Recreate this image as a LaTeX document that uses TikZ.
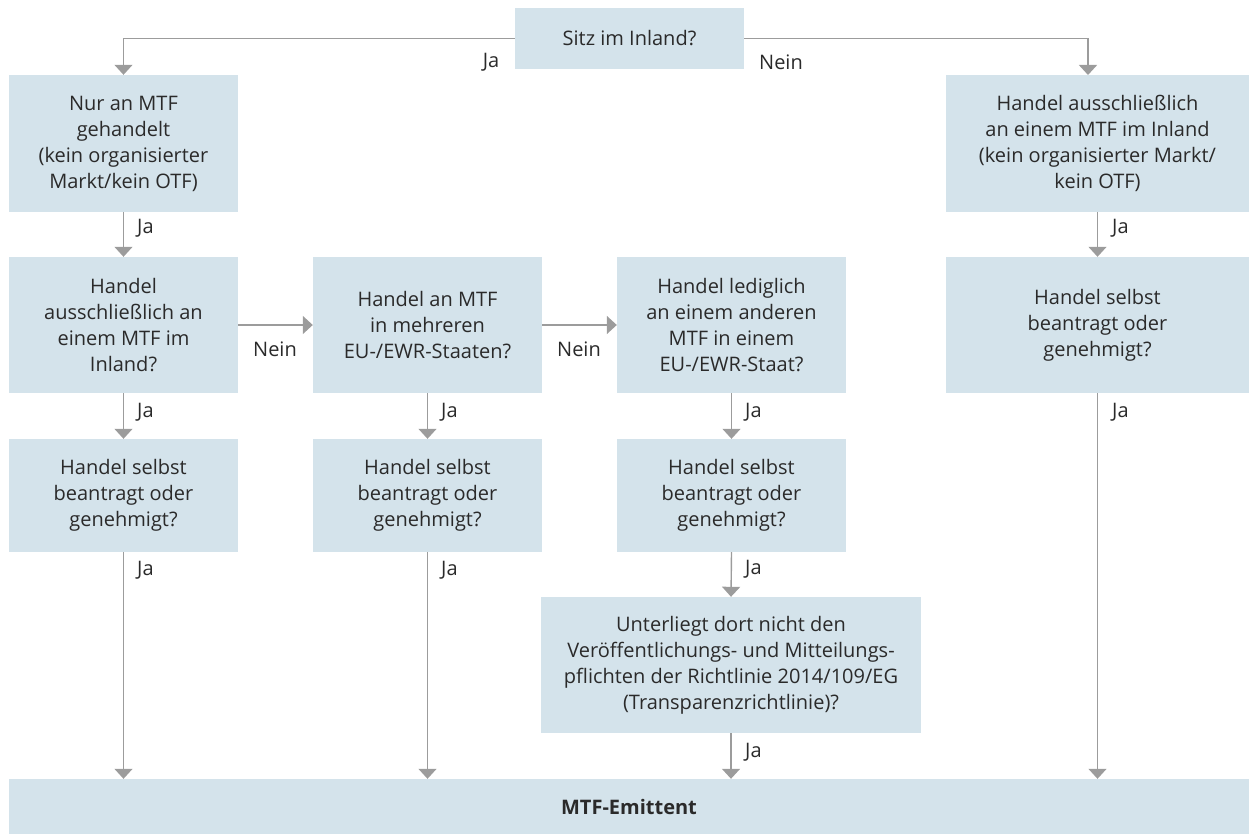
\documentclass[tikz,border=0pt]{standalone}
\usepackage{fontspec}
\setmainfont{Open Sans}
\usetikzlibrary{arrows.meta,calc}
\definecolor{boxfill}{HTML}{D4E3EB}
\definecolor{linegray}{HTML}{9C9C9C}
\definecolor{txt}{HTML}{2A2A2A}
\tikzset{
  qbox/.style={fill=boxfill, draw=none, inner sep=0pt, align=center,
    text=txt, font=\fontsize{20}{26}\selectfont},
  lab/.style={inner sep=0pt, text=txt, font=\fontsize{20}{26}\selectfont},
  flow/.style={draw=linegray, line width=1.4pt,
    -{Triangle[width=18pt,length=10pt,fill=linegray]}},
}
\begin{document}
\begin{tikzpicture}[x=1pt,y=-1pt]
\useasboundingbox (0,0) rectangle (1249,834);

% question boxes
\node[qbox, minimum width=229pt, minimum height=61pt] (top) at (629.5,38.5) {Sitz im Inland?};
\node[qbox, minimum width=229pt, minimum height=137pt] (A1) at (123.5,143.5)
  {Nur an MTF\\gehandelt\\(kein organisierter\\Markt/kein OTF)};
\node[qbox, minimum width=303pt, minimum height=137pt] (D1) at (1097.5,143.5)
  {Handel ausschließlich\\an einem MTF im Inland\\(kein organisierter Markt/\\kein OTF)};

\node[qbox, minimum width=229pt, minimum height=136pt] (A2) at (123.5,325)
  {Handel\\ausschließlich an\\einem MTF im\\Inland?};
\node[qbox, minimum width=229pt, minimum height=136pt] (B2) at (427.5,325)
  {Handel an MTF\\in mehreren\\EU-/EWR-Staaten?};
\node[qbox, minimum width=229pt, minimum height=136pt] (C2) at (731.5,325)
  {Handel lediglich\\an einem anderen\\MTF in einem\\EU-/EWR-Staat?};
\node[qbox, minimum width=303pt, minimum height=136pt] (D2) at (1097.5,325)
  {Handel selbst\\beantragt oder\\genehmigt?};

\node[qbox, minimum width=229pt, minimum height=113pt] (A3) at (123.5,495.5)
  {Handel selbst\\beantragt oder\\genehmigt?};
\node[qbox, minimum width=229pt, minimum height=113pt] (B3) at (427.5,495.5)
  {Handel selbst\\beantragt oder\\genehmigt?};
\node[qbox, minimum width=229pt, minimum height=113pt] (C3) at (731.5,495.5)
  {Handel selbst\\beantragt oder\\genehmigt?};

\node[qbox, minimum width=380pt, minimum height=136pt] (C4) at (731,665)
  {Unterliegt dort nicht den\\Veröffentlichungs- und Mitteilungs-\\pflichten der Richtlinie 2014/109/EG\\(Transparenzrichtlinie)?};

\node[qbox, minimum width=1240pt, minimum height=55pt] (end) at (629,806.5)
  {\bfseries MTF-Emittent};

% entry point of the right branch
\coordinate (D1in) at (1088,75);

% connectors
\draw[flow] (top.west) -| (A1.north);
\draw[flow] (top.east) -| (D1in);
\draw[flow] (A1.south) -- (A2.north);
\draw[flow] (D1.south) -- (D2.north);
\draw[flow] (A2.east) -- (B2.west);
\draw[flow] (B2.east) -- (C2.west);
\draw[flow] (A2.south) -- (A3.north);
\draw[flow] (B2.south) -- (B3.north);
\draw[flow] (C2.south) -- (C3.north);
\draw[flow] (C3.south) -- (C4.north);
\draw[flow] (A3.south) -- (A3.south |- end.north);
\draw[flow] (B3.south) -- (B3.south |- end.north);
\draw[flow] (C4.south) -- (C4.south |- end.north);
\draw[flow] (D2.south) -- (D2.south |- end.north);

% branch labels
\node[lab] (jTop) at (491,62) {Ja};
\node[lab] (nTop) at (781,62) {Nein};
\node[lab, anchor=west] (jA1) at (137,228) {Ja};
\node[lab, anchor=west] (jD1) at (1112,228) {Ja};
\node[lab] (nA2) at (275,349) {Nein};
\node[lab] (nB2) at (579,349) {Nein};
\node[lab, anchor=west] (jA2) at (137,412) {Ja};
\node[lab, anchor=west] (jB2) at (441,412) {Ja};
\node[lab, anchor=west] (jC2) at (745,412) {Ja};
\node[lab, anchor=west] (jD2) at (1112,412) {Ja};
\node[lab, anchor=west] (jA3) at (137,570) {Ja};
\node[lab, anchor=west] (jB3) at (441,570) {Ja};
\node[lab, anchor=west] (jC3) at (745,569) {Ja};
\node[lab, anchor=west] (jC4) at (745,752) {Ja};
\end{tikzpicture}
\end{document}
